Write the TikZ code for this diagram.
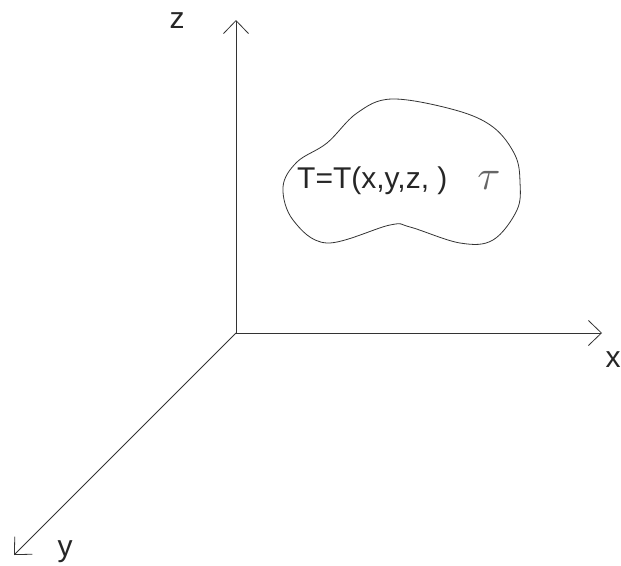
\documentclass[tikz,border=0pt]{standalone}
\usepackage{fontspec}
\setmainfont{Liberation Sans}
\usepackage{amsmath}
\usetikzlibrary{positioning, calc, arrows.meta}

\begin{document}
\begin{tikzpicture}[
    x=1pt, y=-1pt,
    axis/.style={draw=black!80, line width=0.8pt, -{Straight Barb[length=13pt, width=25pt, line width=0.8pt]}},
    label/.style={inner sep=0pt, font=\fontsize{30}{36}\selectfont, text=black!85},
    region/.style={draw=black!80, line width=0.8pt}
]
    \useasboundingbox (0,0) rectangle (621,565);

    \coordinate (origin) at (236,333);
    \coordinate (zend) at (236,20);
    \coordinate (xend) at (602,333);
    \coordinate (yend) at (14,555);

    \draw[axis] (origin) -- (zend);
    \draw[axis] (origin) -- (xend);
    \draw[axis] (origin) -- (yend);

    \node[label] (zlabel) at (177,21) {z};
    \node[label] (xlabel) at (613,360) {x};
    \node[label] (ylabel) at (65,552) {y};

    % body of the region
    \draw[region] plot[smooth cycle, tension=0.6] coordinates {
        (392,99) (455,110) (493,127) (515,155) (520,182) (517,210)
        (493,240) (460,243) (410,227) (390,225) (327,243) (293,220)
        (283,187) (297,162) (327,143) (357,113)};

    \node[label, anchor=base west] (temp) at (297,188) {T=T(x,y,z, )};
    \node[inner sep=0pt, text=black!60] (tau) at (489,180) {\scalebox{4.2}{$\tau$}};
\end{tikzpicture}
\end{document}
